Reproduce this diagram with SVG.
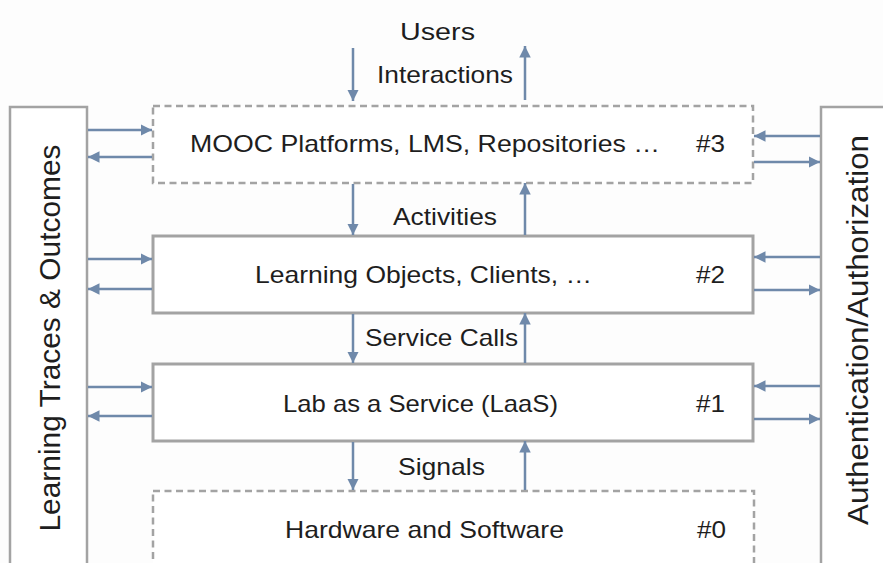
<svg xmlns="http://www.w3.org/2000/svg" width="883" height="563" viewBox="0 0 883 563">
  <style>
    .lbl { font-family: "Liberation Sans", Arial, sans-serif; font-size: 24px; fill: #1e1e1e; }
    .side { font-family: "Liberation Sans", Arial, sans-serif; font-size: 29px; fill: #1e1e1e; }
    .box { fill: #ffffff; stroke: #a3a3a3; stroke-width: 3; }
    .dash { fill: #ffffff; stroke: #a3a3a3; stroke-width: 2.5; stroke-dasharray: 7 4.5; }
    .bar { fill: #ffffff; stroke: #a3a3a3; stroke-width: 2.5; }
    .arr { stroke: #6f89aa; stroke-width: 2.5; fill: none; marker-end: url(#head); }
  </style>
  <defs>
    <marker id="head" viewBox="0 0 10 10" refX="10" refY="5" markerWidth="4.6" markerHeight="4.6" markerUnits="strokeWidth" orient="auto">
      <path d="M0,0 L10,5 L0,10 z" fill="#6f89aa"/>
    </marker>
  </defs>

  <rect width="883" height="563" fill="#fdfdfd"/>

  <!-- side columns -->
  <g id="learning-traces">
    <rect class="bar" x="10" y="107" width="77" height="480"/>
    <text class="side" transform="translate(60,338) rotate(-90)" text-anchor="middle" textLength="387" lengthAdjust="spacingAndGlyphs">Learning Traces &amp; Outcomes</text>
  </g>
  <g id="auth">
    <rect class="bar" x="821" y="107" width="90" height="480"/>
    <text class="side" transform="translate(868,330) rotate(-90)" text-anchor="middle" textLength="390" lengthAdjust="spacingAndGlyphs">Authentication/Authorization</text>
  </g>

  <!-- layers -->
  <g id="users">
    <text class="lbl" x="400" y="40" font-size="26" textLength="75" lengthAdjust="spacingAndGlyphs">Users</text>
  </g>
  <g id="layer3">
    <rect class="dash" x="153" y="106" width="600" height="77"/>
    <text class="lbl" x="190" y="152" textLength="470" lengthAdjust="spacingAndGlyphs">MOOC Platforms, LMS, Repositories …</text>
    <text class="lbl" x="696" y="152" textLength="29" lengthAdjust="spacingAndGlyphs">#3</text>
  </g>
  <g id="layer2">
    <rect class="box" x="153" y="236" width="600" height="77"/>
    <text class="lbl" x="255" y="283" textLength="337" lengthAdjust="spacingAndGlyphs">Learning Objects, Clients, …</text>
    <text class="lbl" x="696" y="283" textLength="29" lengthAdjust="spacingAndGlyphs">#2</text>
  </g>
  <g id="layer1">
    <rect class="box" x="153" y="364" width="600" height="77"/>
    <text class="lbl" x="283" y="412" textLength="275" lengthAdjust="spacingAndGlyphs">Lab as a Service (LaaS)</text>
    <text class="lbl" x="696" y="412" textLength="29" lengthAdjust="spacingAndGlyphs">#1</text>
  </g>
  <g id="layer0">
    <rect class="dash" x="153" y="491" width="601" height="100"/>
    <text class="lbl" x="285" y="538" textLength="279" lengthAdjust="spacingAndGlyphs">Hardware and Software</text>
    <text class="lbl" x="697" y="538" textLength="29" lengthAdjust="spacingAndGlyphs">#0</text>
  </g>

  <!-- connectors -->
  <g id="connectors">
    <!-- vertical flows between layers -->
    <line class="arr" x1="353" y1="48" x2="353" y2="101"/>
    <line class="arr" x1="525" y1="100" x2="525" y2="46"/>
    <line class="arr" x1="353" y1="184" x2="353" y2="235"/>
    <line class="arr" x1="525" y1="235" x2="525" y2="183"/>
    <line class="arr" x1="353" y1="314" x2="353" y2="363"/>
    <line class="arr" x1="525" y1="363" x2="525" y2="313"/>
    <line class="arr" x1="353" y1="442" x2="353" y2="490"/>
    <line class="arr" x1="525" y1="490" x2="525" y2="441"/>

    <!-- learning traces side -->
    <line class="arr" x1="88" y1="130" x2="152" y2="130"/>
    <line class="arr" x1="152" y1="157" x2="88" y2="157"/>
    <line class="arr" x1="88" y1="259" x2="152" y2="259"/>
    <line class="arr" x1="152" y1="289" x2="88" y2="289"/>
    <line class="arr" x1="88" y1="387" x2="152" y2="387"/>
    <line class="arr" x1="152" y1="416" x2="88" y2="416"/>

    <!-- authentication side -->
    <line class="arr" x1="820" y1="136" x2="754" y2="136"/>
    <line class="arr" x1="754" y1="162" x2="820" y2="162"/>
    <line class="arr" x1="820" y1="257" x2="754" y2="257"/>
    <line class="arr" x1="754" y1="290" x2="820" y2="290"/>
    <line class="arr" x1="820" y1="386" x2="754" y2="386"/>
    <line class="arr" x1="754" y1="419" x2="820" y2="419"/>
  </g>

  <!-- flow labels -->
  <g id="flow-labels">
    <text class="lbl" x="377" y="83" textLength="136" lengthAdjust="spacingAndGlyphs">Interactions</text>
    <text class="lbl" x="393" y="225" textLength="104" lengthAdjust="spacingAndGlyphs">Activities</text>
    <text class="lbl" x="365" y="346" textLength="153" lengthAdjust="spacingAndGlyphs">Service Calls</text>
    <text class="lbl" x="398" y="475" textLength="87" lengthAdjust="spacingAndGlyphs">Signals</text>
  </g>
</svg>
